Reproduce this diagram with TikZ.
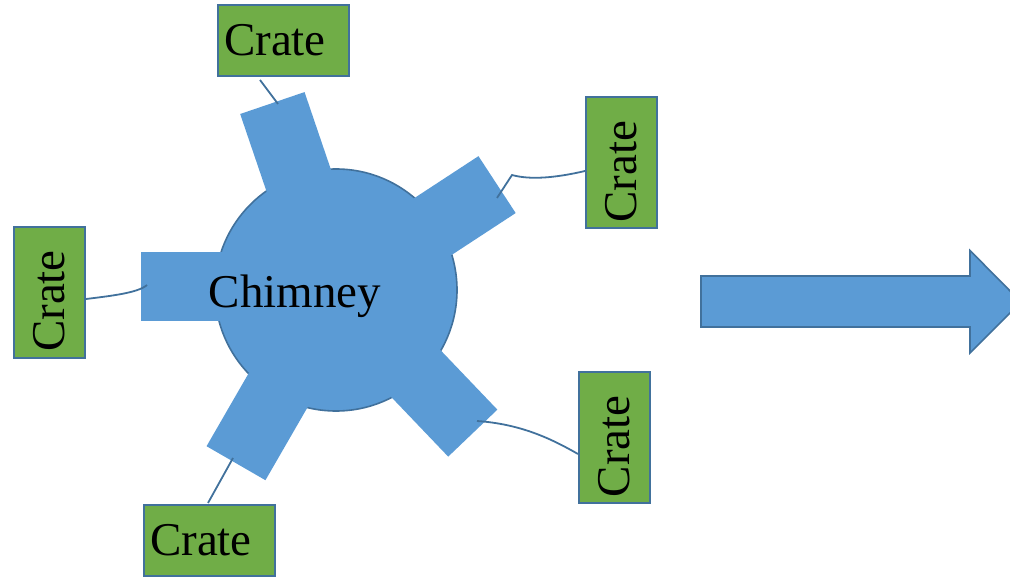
\documentclass[tikz,border=0pt]{standalone}
\usepackage{fontspec}
\setmainfont{Liberation Serif}
\definecolor{bluefill}{HTML}{5B9BD5}
\definecolor{blueline}{HTML}{41719C}
\definecolor{cgreen}{HTML}{70AD47}
\tikzset{
  crate/.style={draw=blueline, line width=2pt, fill=cgreen, minimum height=71pt,
    text width=119pt, inner xsep=6pt, inner ysep=0pt, align=left,
    font=\fontsize{47}{56}\selectfont},
  link/.style={draw=blueline, line width=1.8pt},
  arm/.style={fill=bluefill}
}
\begin{document}
\begin{tikzpicture}[x=1pt,y=-1pt]
\useasboundingbox (0,0) rectangle (1010,577);
\clip (0,0) rectangle (1010,577);
% chimney body
\node[circle, draw=blueline, line width=1.6pt, fill=bluefill, minimum size=242pt, inner sep=0pt] (chim) at (336,290) {};
% arms
\fill[arm, shift={(336,290)}, rotate=108.8] (0,-34) -- (197.5,-34) -- (197.5,34) -- (0,34) -- cycle;
\fill[arm, shift={(336,290)}, rotate=33.2] (0,-34) -- (192.5,-34) -- (192.5,34) -- (0,34) -- cycle;
\fill[arm] (141,252) -- (336,252) -- (336,321) -- (141,321) -- cycle;
\fill[arm, shift={(336,290)}, rotate=-120] (0,-34) -- (200,-34) -- (200,34) -- (0,34) -- cycle;
\fill[arm, shift={(336,290)}, rotate=-46.3] (0,-34) -- (198,-34) -- (198,34) -- (0,34) -- cycle;
\node[anchor=base, font=\fontsize{47}{56}\selectfont, inner sep=0pt] (chimtext) at (295,308) {Chimney};
% crates
\node[crate] (c1) at (283.5,40.5) {Crate};
\node[crate, rotate=90] (c2) at (621,163) {Crate};
\node[crate, rotate=90] (c3) at (49,292.5) {Crate};
\node[crate] (c4) at (209.5,540) {Crate};
\node[crate, rotate=90] (c5) at (614,437.5) {Crate};
% connector end points
\coordinate (p1a) at (260,80);
\coordinate (p1b) at (278,104);
\coordinate (p2a) at (585,171);
\coordinate (p2m) at (512,175);
\coordinate (p2b) at (497,198);
\coordinate (p3a) at (86,299);
\coordinate (p3b) at (147,285);
\coordinate (p4a) at (208,503);
\coordinate (p4b) at (233,458);
\coordinate (p5a) at (477,421);
\coordinate (p5b) at (578,454);
\draw[link] (p1a) -- (p1b);
\draw[link] (p2a) .. controls (555,178) and (530,180) .. (p2m) -- (p2b);
\draw[link] (p3a) .. controls (110,296) and (138,293) .. (p3b);
\draw[link] (p4a) -- (p4b);
\draw[link] (p5a) .. controls (520,424) and (550,438) .. (p5b);
% block arrow
\draw[draw=blueline, line width=1.6pt, fill=bluefill] (701,276) -- (970,276) -- (970,250.5) -- (1021,302) -- (970,353) -- (970,327) -- (701,327) -- cycle;
\end{tikzpicture}
\end{document}
